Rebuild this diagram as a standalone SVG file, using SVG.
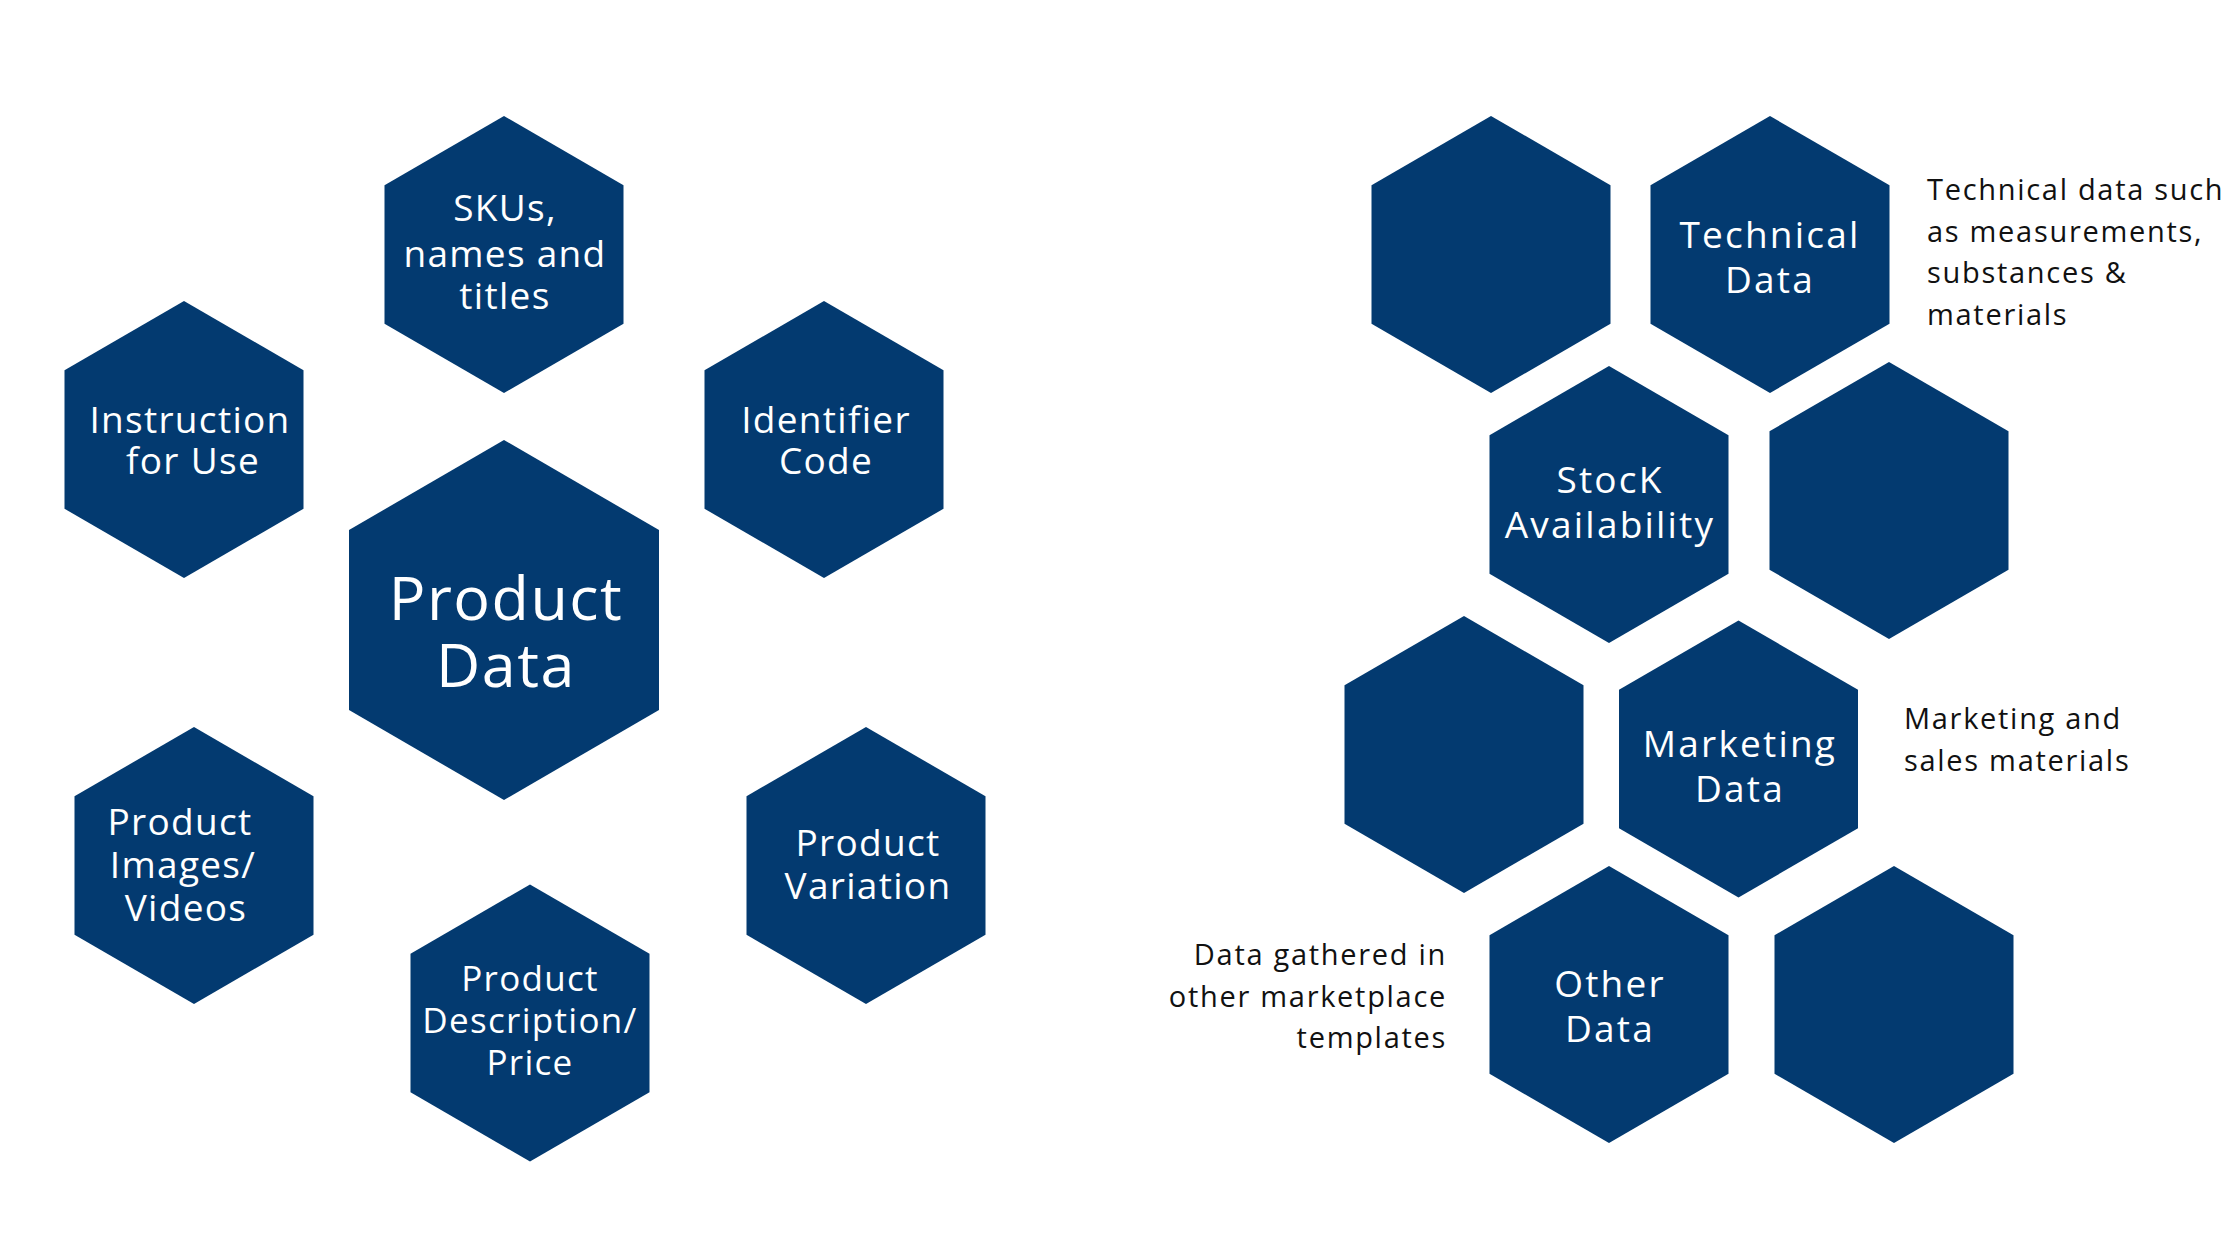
<svg xmlns="http://www.w3.org/2000/svg" xmlns:xlink="http://www.w3.org/1999/xlink" width="2240" height="1260" viewBox="0 0 2240 1260">
  <style>
    .hex { fill: #033a70; }
    .lbl { font-family: "Open Sans", "Liberation Sans", sans-serif; fill: #ffffff; text-anchor: middle; font-weight: 400; }
    .sm { font-size: 37px; letter-spacing: 1.3px; }
    .big { font-size: 61px; letter-spacing: 1.5px; }
    .rl { font-size: 37px; letter-spacing: 2.2px; }
    .side { font-family: "Open Sans", "Liberation Sans", sans-serif; fill: #111111; font-size: 29px; letter-spacing: 1.7px; font-weight: 400; }
  </style>
  <defs>
    <polygon id="hx" points="0,-138.5 119.5,-69.25 119.5,69.25 0,138.5 -119.5,69.25 -119.5,-69.25"/>
    <polygon id="hxl" points="0,-180 155,-90 155,90 0,180 -155,90 -155,-90"/>
  </defs>
  <rect width="2240" height="1260" fill="#ffffff"/>

  <g id="connectors"></g>

  <!-- Left cluster -->
  <g id="node-skus">
    <use xlink:href="#hx" href="#hx" class="hex" x="504" y="254.5"/>
    <text class="lbl sm"><tspan x="505" y="221">SKUs,</tspan><tspan x="505" y="267">names and</tspan><tspan x="505" y="309">titles</tspan></text>
  </g>
  <g id="node-instruction">
    <use xlink:href="#hx" href="#hx" class="hex" x="184" y="439.5"/>
    <text class="lbl sm"><tspan x="190" y="433">Instruction</tspan><tspan x="193" y="474">for Use</tspan></text>
  </g>
  <g id="node-identifier">
    <use xlink:href="#hx" href="#hx" class="hex" x="824" y="439.5"/>
    <text class="lbl sm"><tspan x="826" y="433">Identifier</tspan><tspan x="826" y="474">Code</tspan></text>
  </g>
  <g id="node-product-data">
    <use xlink:href="#hxl" href="#hxl" class="hex" x="504" y="620"/>
    <text class="lbl big"><tspan x="506" y="620">Product</tspan><tspan x="506" y="687">Data</tspan></text>
  </g>
  <g id="node-images">
    <use xlink:href="#hx" href="#hx" class="hex" x="194" y="865.5"/>
    <text class="lbl sm"><tspan x="180" y="835">Product</tspan><tspan x="183" y="878">Images/</tspan><tspan x="186" y="921">Videos</tspan></text>
  </g>
  <g id="node-variation">
    <use xlink:href="#hx" href="#hx" class="hex" x="866" y="865.5"/>
    <text class="lbl sm"><tspan x="868" y="856">Product</tspan><tspan x="868" y="899">Variation</tspan></text>
  </g>
  <g id="node-description">
    <use xlink:href="#hx" href="#hx" class="hex" x="530" y="1023"/>
    <text class="lbl sm" style="font-size:35px"><tspan x="530" y="991">Product</tspan><tspan x="530" y="1033">Description/</tspan><tspan x="530" y="1075">Price</tspan></text>
  </g>

  <!-- Right cluster -->
  <g id="node-blank-1">
    <use xlink:href="#hx" href="#hx" class="hex" x="1491" y="254.5"/>
  </g>
  <g id="node-technical">
    <use xlink:href="#hx" href="#hx" class="hex" x="1770" y="254.5"/>
    <text class="lbl rl"><tspan x="1770" y="248">Technical</tspan><tspan x="1770" y="293">Data</tspan></text>
  </g>
  <g id="node-stock">
    <use xlink:href="#hx" href="#hx" class="hex" x="1609" y="504.5"/>
    <text class="lbl rl"><tspan x="1610" y="493">StocK</tspan><tspan x="1610" y="538">Availability</tspan></text>
  </g>
  <g id="node-blank-2">
    <use xlink:href="#hx" href="#hx" class="hex" x="1889" y="500.5"/>
  </g>
  <g id="node-blank-3">
    <use xlink:href="#hx" href="#hx" class="hex" x="1464" y="754.5"/>
  </g>
  <g id="node-marketing">
    <use xlink:href="#hx" href="#hx" class="hex" x="1738.5" y="759"/>
    <text class="lbl rl"><tspan x="1740" y="757">Marketing</tspan><tspan x="1740" y="802">Data</tspan></text>
  </g>
  <g id="node-other">
    <use xlink:href="#hx" href="#hx" class="hex" x="1609" y="1004.5"/>
    <text class="lbl rl"><tspan x="1610" y="997">Other</tspan><tspan x="1610" y="1042">Data</tspan></text>
  </g>
  <g id="node-blank-4">
    <use xlink:href="#hx" href="#hx" class="hex" x="1894" y="1004.5"/>
  </g>

  <!-- Side notes -->
  <g id="note-technical">
    <text class="side"><tspan x="1927" y="200">Technical data such</tspan><tspan x="1927" y="242">as measurements,</tspan><tspan x="1927" y="283">substances &amp;</tspan><tspan x="1927" y="325">materials</tspan></text>
  </g>
  <g id="note-marketing">
    <text class="side"><tspan x="1904" y="729">Marketing and</tspan><tspan x="1904" y="771">sales materials</tspan></text>
  </g>
  <g id="note-other">
    <text class="side" text-anchor="end"><tspan x="1447" y="965">Data gathered in</tspan><tspan x="1447" y="1007">other marketplace</tspan><tspan x="1447" y="1048">templates</tspan></text>
  </g>
</svg>
